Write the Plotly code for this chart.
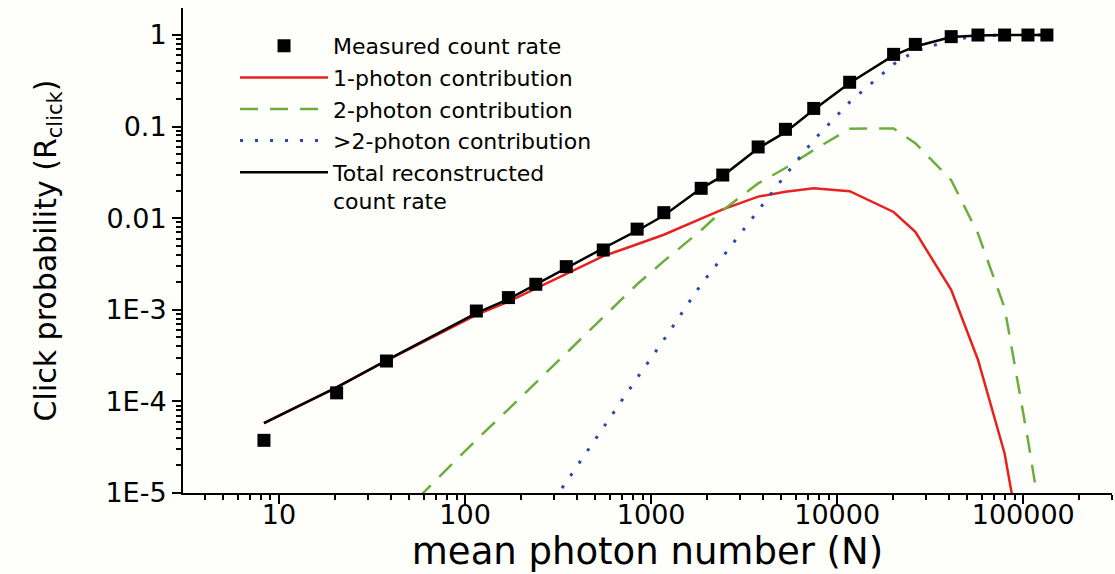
import plotly.graph_objects as go

# mean photon number at which measurements / model were evaluated
photon_n = [8.3, 20.4, 37.8, 115, 171, 240, 350, 553, 841, 1170, 1858, 2427,
            3760, 5270, 7480, 11670, 20100, 26300, 41000, 57100, 79400, 106000, 134000]

measured = [3.76e-5, 1.24e-4, 2.76e-4, 9.7e-4, 1.36e-3, 1.9e-3, 2.96e-3, 4.5e-3, 7.6e-3,
            0.0115, 0.0212, 0.0296, 0.060, 0.0934, 0.158, 0.305, 0.615, 0.79, 0.96,
            1.0, 1.0, 1.0, 1.0]

one_photon = [5.8e-5, 1.42e-4, 2.78e-4, 8.8e-4, 1.23e-3, 1.72e-3, 2.5e-3, 3.85e-3, 5.2e-3,
              6.6e-3, 0.0099, 0.0125, 0.0172, 0.0195, 0.0212, 0.0197, 0.0117, 7.1e-3,
              1.65e-3, 2.85e-4, 2.7e-5, 1.0e-6, 1.0e-8]

two_photon = [2.5e-7, 1.0e-6, 4.0e-6, 3.8e-5, 8.2e-5, 1.6e-4, 3.4e-4, 8.4e-4, 1.9e-3,
              3.4e-3, 7.4e-3, 0.0122, 0.024, 0.0353, 0.0555, 0.095, 0.0955, 0.066,
              0.026, 6.8e-3, 1.05e-3, 3.8e-5, 2.0e-6]

multi_photon = [1e-9, 2e-8, 1.3e-7, 1.0e-6, 2.0e-6, 4.3e-6, 1.33e-5, 5.1e-5, 1.8e-4,
                4.7e-4, 1.9e-3, 3.8e-3, 0.0123, 0.0296, 0.0714, 0.185, 0.48, 0.67,
                0.88, 0.98, 1.0, 1.0, 1.0]

total = [5.8e-5, 1.42e-4, 2.8e-4, 9.2e-4, 1.31e-3, 1.9e-3, 2.85e-3, 4.7e-3, 7.3e-3,
         0.0107, 0.0212, 0.029, 0.058, 0.087, 0.153, 0.30, 0.60, 0.75, 0.95,
         0.99, 1.0, 1.0, 1.0]

x_tickvals = [10, 100, 1000, 10000, 100000]
x_ticktext = ["10", "100", "1000", "10000", "100000"]
y_tickvals = [1e-5, 1e-4, 1e-3, 0.01, 0.1, 1]
y_ticktext = ["1E-5", "1E-4", "1E-3", "0.01", "0.1", "1"]

FONT = "DejaVu Sans"

fig = go.Figure()
fig.add_trace(go.Scatter(x=photon_n, y=one_photon, mode="lines", name="1-photon contribution",
                         line=dict(color="#e6211e", width=2.5), legendrank=2))
fig.add_trace(go.Scatter(x=photon_n, y=two_photon, mode="lines", name="2-photon contribution",
                         line=dict(color="#6cae3e", width=2.5, dash="18px,12px"), legendrank=3))
fig.add_trace(go.Scatter(x=photon_n, y=multi_photon, mode="lines", name=">2-photon contribution",
                         line=dict(color="#2b48a8", width=3, dash="3px,12px"), legendrank=4))
fig.add_trace(go.Scatter(x=photon_n, y=total, mode="lines", name="Total reconstructed<br>count rate",
                         line=dict(color="black", width=2.5), legendrank=5))
fig.add_trace(go.Scatter(x=photon_n, y=measured, mode="markers", name="Measured count rate",
                         marker=dict(symbol="square", size=13, color="black"), legendrank=1))

axis_common = dict(
    type="log", showline=True, linecolor="black", linewidth=2,
    ticks="outside", ticklen=9, tickwidth=2, tickcolor="black",
    showgrid=False, zeroline=False,
    tickfont=dict(family=FONT, size=27, color="black"),
    minor=dict(ticks="outside", ticklen=5, tickwidth=1.5, tickcolor="black",
               dtick="D1", showgrid=False),
)

fig.update_xaxes(**axis_common, range=[0.484, 5.477], tickvals=x_tickvals, ticktext=x_ticktext,
                 ticklabelstandoff=-12,
                 title=dict(text="mean photon number (N)", font=dict(family=FONT, size=37, color="black"),
                            standoff=0))
fig.update_yaxes(**axis_common, range=[-5, 0.295], tickvals=y_tickvals, ticktext=y_ticktext,
                 title=dict(text="Click probability (R<sub>click</sub>)",
                            font=dict(family=FONT, size=30, color="black"), standoff=40))

fig.update_layout(
    width=1115, height=574,
    margin=dict(l=183, r=3, t=8, b=81, pad=0),
    paper_bgcolor="#fefefb", plot_bgcolor="#fefefb",
    showlegend=True,
    legend=dict(x=0.056, y=0.965, xanchor="left", yanchor="top", bgcolor="rgba(0,0,0,0)",
                font=dict(family=FONT, size=22, color="black"), itemwidth=88,
                tracegroupgap=0, valign="top"),
)

fig.write_html("out.html")
